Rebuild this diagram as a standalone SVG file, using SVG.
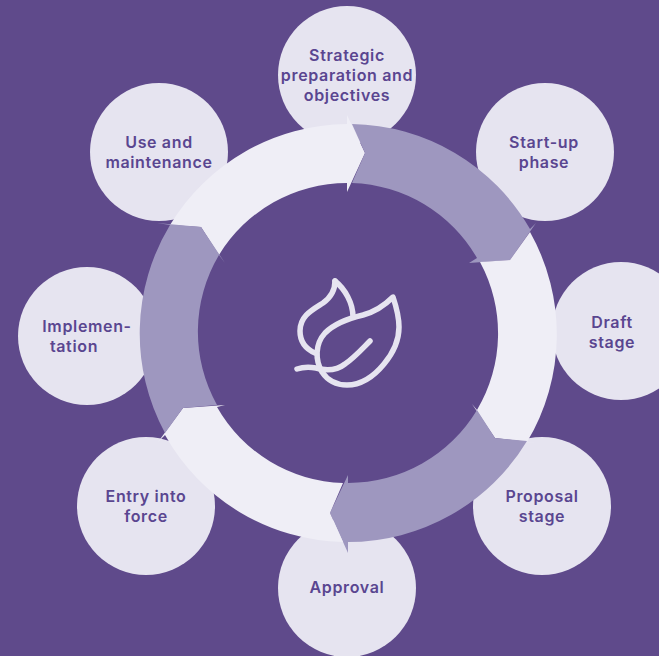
<svg xmlns="http://www.w3.org/2000/svg" width="659" height="656" viewBox="0 0 659 656">
<style>
.c{fill:#e6e4f0}
.t{font-family:"Inter","Liberation Sans",sans-serif;font-weight:600;font-size:16px;letter-spacing:.65px;fill:#5a4690;text-anchor:middle}
.w{fill:#efeef6}
.d{fill:#9e97bf}
.i{fill:none;stroke:#e6e4f0;stroke-width:5.5;stroke-linecap:round;stroke-linejoin:round}
</style>
<rect width="659" height="656" fill="#5f4a8b"/>
<g id="node-strategic"><circle class="c" cx="347" cy="75" r="69"/><text class="t" x="347" y="61">Strategic</text><text class="t" x="347" y="81">preparation and</text><text class="t" x="347" y="101">objectives</text></g>
<g id="node-startup"><circle class="c" cx="545" cy="152" r="69"/><text class="t" x="544" y="148">Start-up</text><text class="t" x="544" y="168">phase</text></g>
<g id="node-draft"><circle class="c" cx="621" cy="331" r="69"/><text class="t" x="612" y="328">Draft</text><text class="t" x="612" y="348">stage</text></g>
<g id="node-proposal"><circle class="c" cx="542" cy="506" r="69"/><text class="t" x="542" y="502">Proposal</text><text class="t" x="542" y="522">stage</text></g>
<g id="node-approval"><circle class="c" cx="347" cy="588" r="69"/><text class="t" x="347" y="593">Approval</text></g>
<g id="node-entry"><circle class="c" cx="146" cy="506" r="69"/><text class="t" x="146" y="502">Entry into</text><text class="t" x="146" y="522">force</text></g>
<g id="node-implementation"><circle class="c" cx="87" cy="336" r="69"/><text class="t" x="87" y="332">Implemen-</text><text class="t" x="74" y="352">tation</text></g>
<g id="node-use"><circle class="c" cx="159" cy="152" r="69"/><text class="t" x="159" y="148">Use and</text><text class="t" x="159" y="168">maintenance</text></g>
<g id="connectors">
<path class="w" d="M170,225A209,209 0 0 1 347,124L347,115L365,153L347,192L347,183A150,150 0 0 0 219,255L201,227Z"/>
<path class="d" d="M352,124A209,209 0 0 1 530,229L536,223L510,260L469,263L477,258A150,150 0 0 0 352,183L365,153Z"/>
<path class="w" d="M530,232A209,209 0 0 1 527,442L537,443L495,438L472,404L477,410A150,150 0 0 0 480,262L510,260Z"/>
<path class="d" d="M527,441A209,209 0 0 1 348,542L348,553L330,513L348,475L348,483A150,150 0 0 0 477,410L495,438Z"/>
<path class="w" d="M343,542A209,209 0 0 1 165,435L158,442L183,408L225,405L217,407A150,150 0 0 0 343,483L330,513Z"/>
<path class="d" d="M165,433A209,209 0 0 1 170,225L157,223L201,227L225,263L219,255A150,150 0 0 0 217,405L183,408Z"/>
</g>
<g id="node-leaf">
<path class="i" d="M335,281C335,290 330,298 323,303C312,310 300,316 300,331C300,342 306,349 315,353"/>
<path class="i" d="M335,281C345,289 353,303 353,317"/>
<path class="i" d="M393,297C385,305 374,312 363,315C350,318 335,323 325,333C315,344 315,360 322,372C328,381 337,385 347,385C362,385 375,375 384,364C394,352 399,340 399,327C399,316 396,306 393,297Z"/>
<path class="i" d="M297,369C303,367 310,367 316,368C326,371 336,371 345,364C354,358 362,349 370,341"/>
</g>
</svg>
